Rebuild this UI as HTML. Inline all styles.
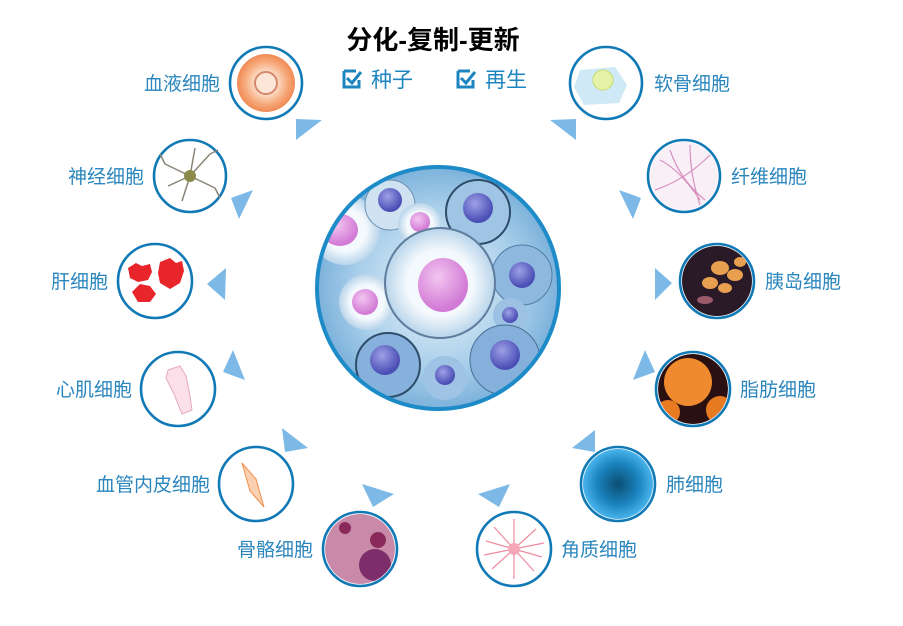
<!DOCTYPE html>
<html><head><meta charset="utf-8"><style>
html,body{margin:0;padding:0;background:#fff;}
body{width:903px;height:621px;overflow:hidden;}
svg text{font-family:"Liberation Sans","Noto Sans CJK SC",sans-serif;}
</style></head><body>
<svg width="903" height="621" viewBox="0 0 903 621" xmlns="http://www.w3.org/2000/svg">
<defs>
<radialGradient id="cbg" cx="50%" cy="50%" r="55%">
<stop offset="0" stop-color="#eaf4fb"/><stop offset="0.6" stop-color="#a9cfea"/><stop offset="1" stop-color="#6ea8d6"/>
</radialGradient>
<radialGradient id="pink" cx="40%" cy="35%" r="60%"><stop offset="0" stop-color="#f4c6f0"/><stop offset="1" stop-color="#d27bd6"/></radialGradient>
<radialGradient id="pur" cx="40%" cy="35%" r="60%"><stop offset="0" stop-color="#9fa0e6"/><stop offset="1" stop-color="#4b4fb5"/></radialGradient>
<radialGradient id="bub" cx="50%" cy="50%" r="50%"><stop offset="0.6" stop-color="#f4f9fd"/><stop offset="1" stop-color="#b8d4ea"/></radialGradient>
<radialGradient id="blood" cx="50%" cy="50%" r="50%"><stop offset="0.3" stop-color="#fde9dc"/><stop offset="0.75" stop-color="#f6a878"/><stop offset="1" stop-color="#f08a55"/></radialGradient>
<radialGradient id="lung" cx="50%" cy="50%" r="50%"><stop offset="0" stop-color="#0b4d72"/><stop offset="0.6" stop-color="#1b84c0"/><stop offset="1" stop-color="#49b4ec"/></radialGradient>
<clipPath id="cc"><circle cx="438" cy="288" r="121"/></clipPath>
<clipPath id="cfat"><circle cx="693" cy="389" r="35"/></clipPath>
<clipPath id="cbone"><circle cx="360" cy="549" r="35"/></clipPath>
</defs>

<text x="433" y="49" font-size="26" font-weight="bold" text-anchor="middle" fill="#000">分化-复制-更新</text>
<g fill="none" stroke="#1c85c0" stroke-width="3">
<path d="M344 71 h12 M344 71 v16 h15 v-7"/><path d="M347 78 l5 5 l9 -11"/>
<path d="M458 71 h12 M458 71 v16 h15 v-7"/><path d="M461 78 l5 5 l9 -11"/>
</g>
<text x="371" y="87" font-size="21" fill="#1c85c0">种子</text>
<text x="485" y="87" font-size="21" fill="#1c85c0">再生</text>

<circle cx="438" cy="288" r="122" fill="url(#cbg)"/>
<g clip-path="url(#cc)">
<circle cx="345" cy="230" r="35" fill="url(#bub)"/><ellipse cx="340" cy="230" rx="18" ry="16" fill="url(#pink)"/>
<circle cx="390" cy="205" r="25" fill="#cfe2f2" stroke="#6b8fb0"/><circle cx="390" cy="200" r="12" fill="url(#pur)"/>
<circle cx="420" cy="225" r="22" fill="url(#bub)"/><circle cx="420" cy="222" r="10" fill="url(#pink)"/>
<circle cx="478" cy="212" r="32" fill="#9fc4e4" stroke="#2d4d6b" stroke-width="2"/><circle cx="478" cy="208" r="15" fill="url(#pur)"/>
<circle cx="367" cy="302" r="28" fill="url(#bub)"/><circle cx="365" cy="302" r="13" fill="url(#pink)"/>
<circle cx="522" cy="275" r="30" fill="#8fb8de" stroke="#4f7ca6"/><circle cx="522" cy="275" r="13" fill="url(#pur)"/>
<circle cx="510" cy="315" r="17" fill="#9cc1e2"/><circle cx="510" cy="315" r="8" fill="url(#pur)"/>
<circle cx="388" cy="365" r="32" fill="#86b1dc" stroke="#2d4d6b" stroke-width="2"/><circle cx="385" cy="360" r="15" fill="url(#pur)"/>
<circle cx="445" cy="378" r="22" fill="#9ec3e4"/><circle cx="445" cy="375" r="10" fill="url(#pur)"/>
<circle cx="505" cy="360" r="35" fill="#85b0dc" stroke="#4a6f94"/><circle cx="505" cy="355" r="15" fill="url(#pur)"/>
<circle cx="440" cy="283" r="55" fill="url(#bub)" stroke="#5f7e9e" stroke-width="2"/>
<ellipse cx="443" cy="285" rx="25" ry="27" fill="url(#pink)"/>
</g>
<circle cx="438" cy="288" r="121" fill="none" stroke="#1d8bc7" stroke-width="4"/>

<g stroke="#117ab6" stroke-width="2.6" fill="#fff">
<circle cx="266" cy="83" r="36"/><circle cx="190" cy="176" r="36"/><circle cx="155" cy="281" r="37"/>
<circle cx="178" cy="389" r="37"/><circle cx="256" cy="484" r="37"/><circle cx="360" cy="549" r="37"/>
<circle cx="514" cy="549" r="37"/><circle cx="618" cy="484" r="37"/><circle cx="693" cy="389" r="37"/>
<circle cx="717" cy="281" r="37"/><circle cx="684" cy="176" r="36"/><circle cx="606" cy="83" r="36"/>
</g>
<circle cx="266" cy="83" r="29" fill="url(#blood)"/><circle cx="266" cy="83" r="11" fill="#fbe6d8" stroke="#d7886a" stroke-width="2"/>
<g stroke="#8a8376" stroke-width="1.5" fill="none">
<path d="M190 176 l-25 -12 M190 176 l20 -22 M190 176 l-8 25 M190 176 l25 12 M190 176 l-22 10 M190 176 l5 -28 M210 154 l8 -4 M165 164 l-5 -10 M215 188 l5 10"/>
</g><circle cx="190" cy="176" r="6" fill="#8c8a4a"/>
<g fill="#e8252a"><path d="M128 268 l8 -5 l6 3 l8 -2 l2 8 l-4 8 l-10 2 l-8 -4z"/><path d="M160 262 l10 -4 l6 5 l6 -2 l2 10 l-4 12 l-10 6 l-10 -6 l-2 -10z"/><path d="M132 292 l8 -8 l10 2 l6 8 l-6 8 l-12 0z"/></g>
<path d="M168 370 l12 -4 l6 10 l4 20 l2 14 l-10 4 l-8 -20 l-8 -16z" fill="#fbe0ea" stroke="#e9a8c0"/>
<path d="M242 463 l14 16 l8 28 l-14 -16z" fill="#fbd0b0" stroke="#f09050"/>
<g clip-path="url(#cbone)">
<circle cx="360" cy="549" r="35" fill="#c88aa8"/><circle cx="375" cy="565" r="16" fill="#7d2e6a"/><circle cx="378" cy="540" r="8" fill="#8a2a5a"/><circle cx="345" cy="528" r="6" fill="#8a2a5a"/>
</g>
<g stroke="#f08aa0" stroke-width="1.2"><path d="M514 549 l-28 -8 M514 549 l28 8 M514 549 l-20 -22 M514 549 l20 22 M514 549 l0 -30 M514 549 l0 30 M514 549 l22 -20 M514 549 l-22 20 M514 549 l-30 6 M514 549 l30 -6"/></g><circle cx="514" cy="549" r="6" fill="#f6a8b8"/>
<circle cx="618" cy="484" r="35" fill="url(#lung)"/>
<g clip-path="url(#cfat)">
<circle cx="693" cy="389" r="35" fill="#2a1010"/><circle cx="688" cy="382" r="24" fill="#f08a2e"/><circle cx="720" cy="410" r="14" fill="#e87a22"/><circle cx="668" cy="412" r="12" fill="#e87a22"/>
</g>
<circle cx="717" cy="281" r="35" fill="#2a1a28"/><g fill="#e8a050"><ellipse cx="720" cy="268" rx="9" ry="7"/><ellipse cx="735" cy="275" rx="8" ry="6"/><ellipse cx="710" cy="283" rx="8" ry="6"/><ellipse cx="725" cy="288" rx="7" ry="5"/><ellipse cx="740" cy="262" rx="6" ry="5"/><ellipse cx="705" cy="300" rx="8" ry="4" fill="#9a5a6a"/></g>
<circle cx="684" cy="176" r="34" fill="#f8f0f6"/><g stroke="#d890c0" stroke-width="1.2" fill="none"><path d="M660 160 q20 10 40 40 M670 150 q10 30 35 50 M690 145 q0 30 10 60 M655 190 q30 -10 55 -35"/></g>
<path d="M580 70 l35 -3 l12 18 l-8 18 l-35 2 l-10 -18z" fill="#cfe9f6"/><circle cx="603" cy="80" r="10" fill="#e6f2a8" stroke="#c8dc6a"/>

<g fill="#7db9e6">
<polygon points="296,119 322,120 296,140"/><polygon points="231,198 253,190 239,219"/><polygon points="226,268 207,284 225,300"/>
<polygon points="233,350 223,372 245,380"/><polygon points="282,428 308,448 285,452"/><polygon points="362,484 394,494 373,507"/>
<polygon points="576,119 550,120 576,140"/><polygon points="641,198 619,190 633,219"/><polygon points="655,268 672,283 655,300"/>
<polygon points="645,350 655,372 633,380"/><polygon points="595,430 572,448 595,452"/><polygon points="510,484 478,494 499,507"/>
</g>

<g font-size="19" fill="#2a86bd">
<text x="220" y="90" text-anchor="end">血液细胞</text>
<text x="144" y="183" text-anchor="end">神经细胞</text>
<text x="108" y="288" text-anchor="end">肝细胞</text>
<text x="132" y="396" text-anchor="end">心肌细胞</text>
<text x="210" y="491" text-anchor="end">血管内皮细胞</text>
<text x="313" y="556" text-anchor="end">骨骼细胞</text>
<text x="561" y="556">角质细胞</text>
<text x="666" y="491">肺细胞</text>
<text x="740" y="396">脂肪细胞</text>
<text x="765" y="288">胰岛细胞</text>
<text x="731" y="183">纤维细胞</text>
<text x="654" y="90">软骨细胞</text>
</g>
</svg>
</body></html>
